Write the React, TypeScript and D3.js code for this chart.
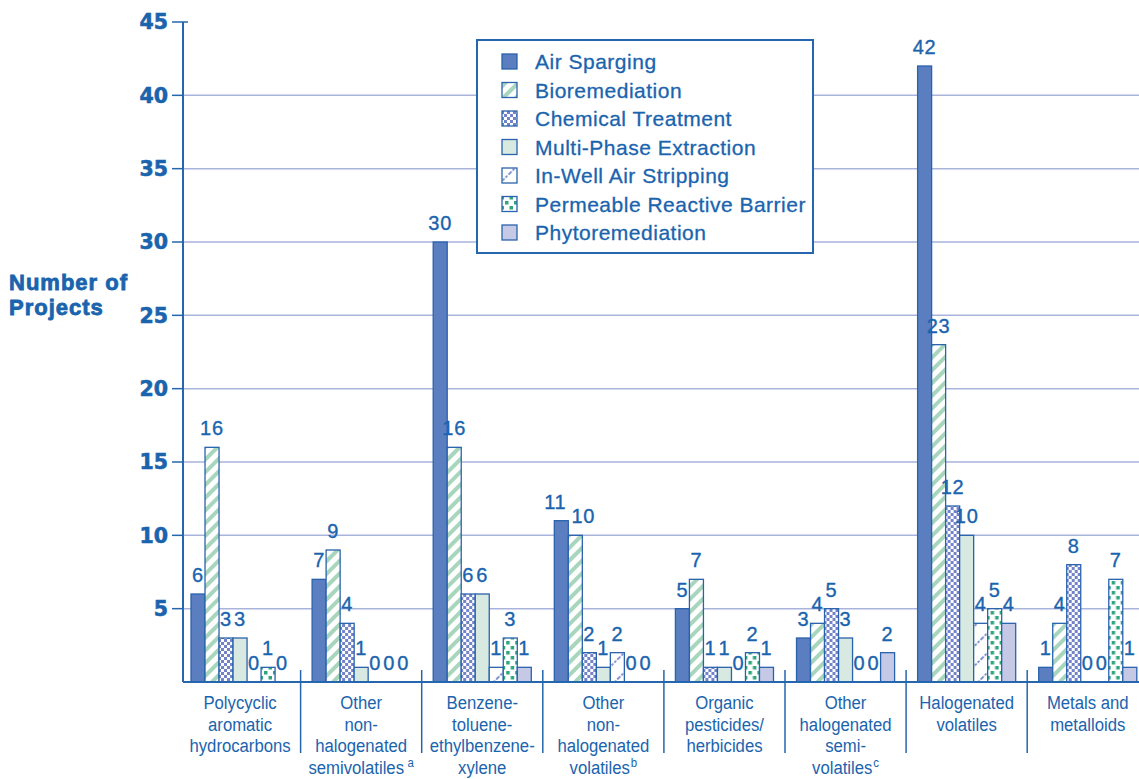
import React from 'react';
import * as d3 from 'd3';

const categoryKeys = ['pah', 'onhsv', 'btex', 'onhv', 'opest', 'ohsv', 'hv', 'metals'];
const categoryLines: string[][] = [
  ['Polycyclic', 'aromatic', 'hydrocarbons'],
  ['Other', 'non-', 'halogenated', 'semivolatiles'],
  ['Benzene-', 'toluene-', 'ethylbenzene-', 'xylene'],
  ['Other', 'non-', 'halogenated', 'volatiles'],
  ['Organic', 'pesticides/', 'herbicides'],
  ['Other', 'halogenated', 'semi-', 'volatiles'],
  ['Halogenated', 'volatiles'],
  ['Metals and', 'metalloids'],
];
const categoryNotes = ['', 'a', '', 'b', '', 'c', '', ''];
const yTitleLines = ['Number of', 'Projects'];

const seriesNames = [
  'Air Sparging',
  'Bioremediation',
  'Chemical Treatment',
  'Multi-Phase Extraction',
  'In-Well Air Stripping',
  'Permeable Reactive Barrier',
  'Phytoremediation',
];
const airSparging = [6, 7, 30, 11, 5, 3, 42, 1];
const bioremediation = [16, 9, 16, 10, 7, 4, 23, 4];
const chemicalTreatment = [3, 4, 6, 2, 1, 5, 12, 8];
const multiPhaseExtraction = [3, 1, 6, 1, 1, 3, 10, 0];
const inWellAirStripping = [0, 0, 1, 2, 0, 0, 4, 0];
const permeableReactiveBarrier = [1, 0, 3, 0, 2, 0, 5, 7];
const phytoremediation = [0, 0, 1, 0, 1, 2, 4, 1];
const seriesValues = [
  airSparging,
  bioremediation,
  chemicalTreatment,
  multiPhaseExtraction,
  inWellAirStripping,
  permeableReactiveBarrier,
  phytoremediation,
];
const yTicks = [5, 10, 15, 20, 25, 30, 35, 40, 45];

const BLUE = '#1a64ae';
const AXIS = '#2566ae';
const GRID = '#a9b3dc';
const BAR_STROKE = '#2a63ad';
const fills = [
  '#5a7ec0',
  'url(#pBio)',
  'url(#pChem)',
  '#d8e9e1',
  'url(#pWell)',
  'url(#pPrb)',
  '#c5c9e6',
];

export default function App() {
  const W = 1139;
  const H = 779;
  const y = d3.scaleLinear().domain([0, 45]).range([682, 22]);
  const x0 = d3
    .scaleBand<string>()
    .domain(categoryKeys)
    .range([179.5, 1148.3])
    .paddingInner(0.19)
    .paddingOuter(0.095);
  const x1 = d3
    .scaleBand<string>()
    .domain(seriesNames)
    .range([0, x0.bandwidth()]);
  const step = x0.step();
  const axisX = 183;
  const legX = 477;
  const legY = 40;
  const rowH = 28.5;

  // label horizontal dodge for adjacent two-digit labels at nearly equal heights
  const labelShift = (ci: number, si: number) => {
    const v = seriesValues[si][ci];
    let dx = 0;
    if (v >= 10) {
      const next = si + 1 < seriesValues.length ? seriesValues[si + 1][ci] : -99;
      const prev = si > 0 ? seriesValues[si - 1][ci] : -99;
      if (next >= 10 && Math.abs(next - v) < 2) dx -= 6;
      if (prev >= 10 && Math.abs(prev - v) < 2) dx += 8;
    }
    return dx;
  };

  return (
    <svg
      width={W}
      height={H}
      style={{ position: 'absolute', left: 0, top: 0, background: '#fff' }}
      fontFamily="'Liberation Sans', Arial, Helvetica, sans-serif"
    >
      <defs>
        <pattern id="pBio" width={9} height={9} patternUnits="userSpaceOnUse" patternTransform="rotate(-45)">
          <rect width={9} height={9} fill="#fff" />
          <rect width={9} height={4} fill="#a8d6bc" />
        </pattern>
        <pattern id="pChem" width={6} height={6} patternUnits="userSpaceOnUse">
          <rect width={6} height={6} fill="#fff" />
          <rect x={0} y={0} width={3} height={3} fill="#7383c9" />
          <rect x={3} y={3} width={3} height={3} fill="#7383c9" />
        </pattern>
        <pattern id="pWell" width={14} height={14} patternUnits="userSpaceOnUse" patternTransform="rotate(-45)">
          <rect width={14} height={14} fill="#fff" />
          <line x1={0} x2={14} y1={7} y2={7} stroke="#5a6fc0" strokeWidth={1.6} strokeDasharray="2.5 1.5" />
        </pattern>
        <pattern id="pPrb" width={9} height={10} patternUnits="userSpaceOnUse">
          <rect width={9} height={10} fill="#fff" />
          <rect x={1} y={1} width={3.5} height={3.5} fill="#2fa67b" />
          <rect x={5.5} y={6} width={3.5} height={3.5} fill="#2fa67b" />
        </pattern>
      </defs>

      {/* gridlines */}
      {yTicks.filter((t) => t < 45).map((t) => (
        <line key={'g' + t} x1={axisX} x2={W} y1={y(t)} y2={y(t)} stroke={GRID} strokeWidth={1.5} />
      ))}

      {/* y axis */}
      <line x1={axisX} x2={axisX} y1={y(45)} y2={y(0)} stroke={AXIS} strokeWidth={2} />
      {yTicks.map((t) => (
        <g key={'t' + t}>
          <line x1={axisX - 11} x2={t === 45 ? axisX + 5 : axisX} y1={y(t)} y2={y(t)} stroke={AXIS} strokeWidth={1.5} />
          <text
            x={168}
            y={y(t)}
            dy="0.36em"
            textAnchor="end"
            fontFamily="'DejaVu Sans', sans-serif"
            fontWeight="bold"
            fontSize={20.5}
            fill={BLUE}
            stroke={BLUE}
            strokeWidth={0.6}
          >
            {t}
          </text>
        </g>
      ))}
      {yTitleLines.map((ln, i) => (
        <text
          key={ln}
          x={9}
          y={290 + i * 25}
          fontWeight="bold"
          fontSize={22}
          letterSpacing={1}
          fill={BLUE}
          stroke={BLUE}
          strokeWidth={0.8}
        >
          {ln}
        </text>
      ))}

      {/* bars */}
      {categoryKeys.map((c, ci) => (
        <g key={c} transform={`translate(${x0(c)},0)`}>
          {seriesNames.map((s, si) => {
            const v = seriesValues[si][ci];
            const bx = x1(s) as number;
            return (
              <g key={s}>
                {v > 0 && (
                  <rect
                    x={bx}
                    y={y(v)}
                    width={x1.bandwidth()}
                    height={y(0) - y(v)}
                    fill={fills[si]}
                    stroke={BAR_STROKE}
                    strokeWidth={1.3}
                  />
                )}
                <text
                  x={bx + x1.bandwidth() / 2 + labelShift(ci, si)}
                  y={y(v) - 12}
                  textAnchor="middle"
                  fontSize={20}
                  letterSpacing={0.8}
                  fill={BLUE}
                  stroke={BLUE}
                  strokeWidth={0.35}
                >
                  {v}
                </text>
              </g>
            );
          })}
        </g>
      ))}

      {/* x axis */}
      <line x1={axisX} x2={W} y1={y(0)} y2={y(0)} stroke={AXIS} strokeWidth={2} />
      {categoryKeys.slice(1).map((c) => {
        const sx = (x0(c) as number) - (step * 0.19) / 2;
        return <line key={'s' + c} x1={sx} x2={sx} y1={670} y2={753} stroke={AXIS} strokeWidth={1.5} />;
      })}
      {categoryKeys.map((c, ci) => {
        const cx = (x0(c) as number) + x0.bandwidth() / 2;
        return (
          <g key={'l' + c}>
            {categoryLines[ci].map((ln, li) => {
              const last = li === categoryLines[ci].length - 1;
              const note = last ? categoryNotes[ci] : '';
              return (
                <text
                  key={li}
                  transform={`translate(${cx},${709 + li * 21.5}) scale(0.88,1)`}
                  textAnchor="middle"
                  fontSize={19}
                  fill={BLUE}
                >
                  {ln}
                  {note && (
                    <tspan fontSize={13} dy={-7} dx={ci === 1 ? 4 : 1}>
                      {note}
                    </tspan>
                  )}
                </text>
              );
            })}
          </g>
        );
      })}

      {/* legend */}
      <rect x={legX} y={legY} width={336} height={213} fill="#fff" stroke={AXIS} strokeWidth={2} />
      {seriesNames.map((s, si) => {
        const cy = 61.5 + si * rowH;
        return (
          <g key={'lg' + s}>
            <rect x={502} y={cy - 7.5} width={15} height={15} fill={fills[si]} stroke={BAR_STROKE} strokeWidth={1.3} />
            <text
              x={535}
              y={cy}
              dy="0.36em"
              fontSize={21}
              letterSpacing={0.5}
              fill={BLUE}
              stroke={BLUE}
              strokeWidth={0.3}
            >
              {s}
            </text>
          </g>
        );
      })}
    </svg>
  );
}
